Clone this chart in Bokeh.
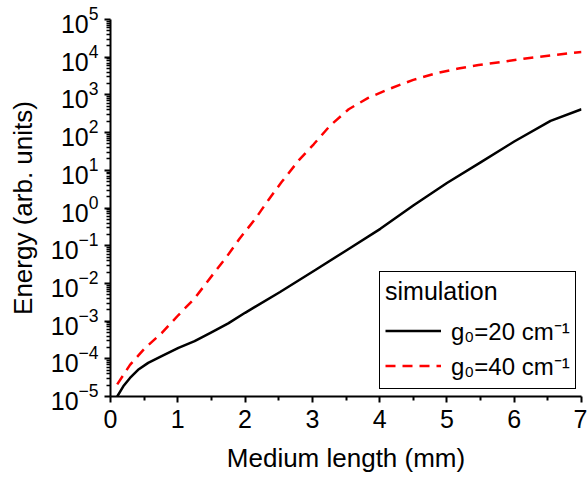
from bokeh.plotting import figure
from bokeh.models import (FixedTicker, LogTickFormatter, Legend, LegendItem)
from bokeh.embed import file_html
from bokeh.resources import INLINE

# g0 = 20 cm^-1 (black solid)
length_20 = [0.10, 0.19, 0.29, 0.41, 0.56, 0.76, 1.01, 1.25, 1.50, 1.75,
             2.00, 2.52, 3.05, 3.51, 4.01, 4.50, 5.00, 5.50, 6.00, 6.54, 7.00]
energy_20 = [1.0e-5, 1.86e-5, 3.1e-5, 5.1e-5, 7.8e-5, 1.17e-4, 1.95e-4,
             2.95e-4, 5.0e-4, 8.7e-4, 1.66e-3, 5.9e-3, 2.3e-2, 7.6e-2, 0.28,
             1.17, 4.6, 16.2, 58, 204, 417]

# g0 = 40 cm^-1 (red dashed)
length_40 = [0.10, 0.29, 0.51, 0.76, 1.01, 1.25, 1.53, 1.73, 1.92, 2.15,
             2.35, 2.54, 2.80, 3.02, 3.26, 3.54, 3.83, 4.16, 4.50, 4.83,
             5.17, 5.47, 5.80, 6.14, 6.55, 7.00]
energy_40 = [2.1e-5, 6.9e-5, 1.9e-4, 4.8e-4, 1.45e-3, 4.0e-3, 1.8e-2, 5.2e-2,
             0.155, 0.51, 1.66, 4.8, 18.6, 49, 151, 417, 832, 1480, 2510,
             3720, 5010, 6170, 7400, 9100, 11200, 13800]

x_major = [0, 1, 2, 3, 4, 5, 6, 7]
x_minor = [0.5, 1.5, 2.5, 3.5, 4.5, 5.5, 6.5]
y_major = [10.0 ** k for k in range(-5, 6)]
y_minor = [m * 10.0 ** k for k in range(-5, 5) for m in range(2, 10)]

FONT = "Liberation Sans"

p = figure(width=587, height=483, y_axis_type="log",
           x_range=(0, 7), y_range=(1e-5, 1e5),
           output_backend="svg", toolbar_location=None,
           min_border_left=110, min_border_right=6,
           min_border_top=19, min_border_bottom=87)

p.xgrid.visible = False
p.ygrid.visible = False
p.outline_line_color = None
p.background_fill_color = "white"
p.border_fill_color = "white"

r20 = p.line(length_20, energy_20, line_color="black", line_width=2.5,
             line_join="round")
r40 = p.line(length_40, energy_40, line_color="red", line_width=2.5,
             line_dash="10 7")

for ax in (p.xaxis[0], p.yaxis[0]):
    ax.axis_line_width = 2
    ax.axis_line_color = "black"
    ax.major_tick_line_width = 2
    ax.major_tick_line_color = "black"
    ax.minor_tick_line_width = 1.5
    ax.minor_tick_line_color = "black"
    ax.minor_tick_line_alpha = 1.0
    ax.major_tick_in = 0
    ax.minor_tick_in = 0
    ax.major_label_text_font = FONT
    ax.major_label_text_font_size = "25px"
    ax.major_label_text_color = "black"
    ax.axis_label_text_font = FONT
    ax.axis_label_text_font_size = "26px"
    ax.axis_label_text_font_style = "normal"
    ax.axis_label_text_color = "black"

xa = p.xaxis[0]
xa.ticker = FixedTicker(ticks=x_major, minor_ticks=x_minor)
xa.major_tick_out = 6
xa.minor_tick_out = 4
xa.minor_tick_line_width = 2
xa.major_label_standoff = 7
xa.axis_label = "Medium length (mm)"
xa.axis_label_standoff = 12

ya = p.yaxis[0]
ya.ticker = FixedTicker(ticks=y_major, minor_ticks=y_minor)
ya.formatter = LogTickFormatter()
ya.major_tick_out = 6
ya.minor_tick_out = 4
ya.major_label_standoff = 6
ya.axis_label = "Energy (arb. units)"
ya.axis_label_standoff = 10

legend = Legend(
    items=[LegendItem(label="g\u2080=20 cm\u207b\u00b9", renderers=[r20]),
           LegendItem(label="g\u2080=40 cm\u207b\u00b9", renderers=[r40])],
    title="simulation",
    location=(269, 7),
    padding=5, spacing=0, margin=0,
    glyph_width=56, glyph_height=35, label_height=35,
    label_standoff=10, title_standoff=7,
    border_line_color="black", border_line_width=1, border_line_alpha=1.0,
    background_fill_alpha=1.0,
    label_text_font=FONT, label_text_font_size="24px",
    label_text_color="black",
    title_text_font=FONT, title_text_font_size="25px",
    title_text_font_style="normal", title_text_color="black",
)
p.add_layout(legend, "center")

open("out.html", "w").write(file_html(p, INLINE))
